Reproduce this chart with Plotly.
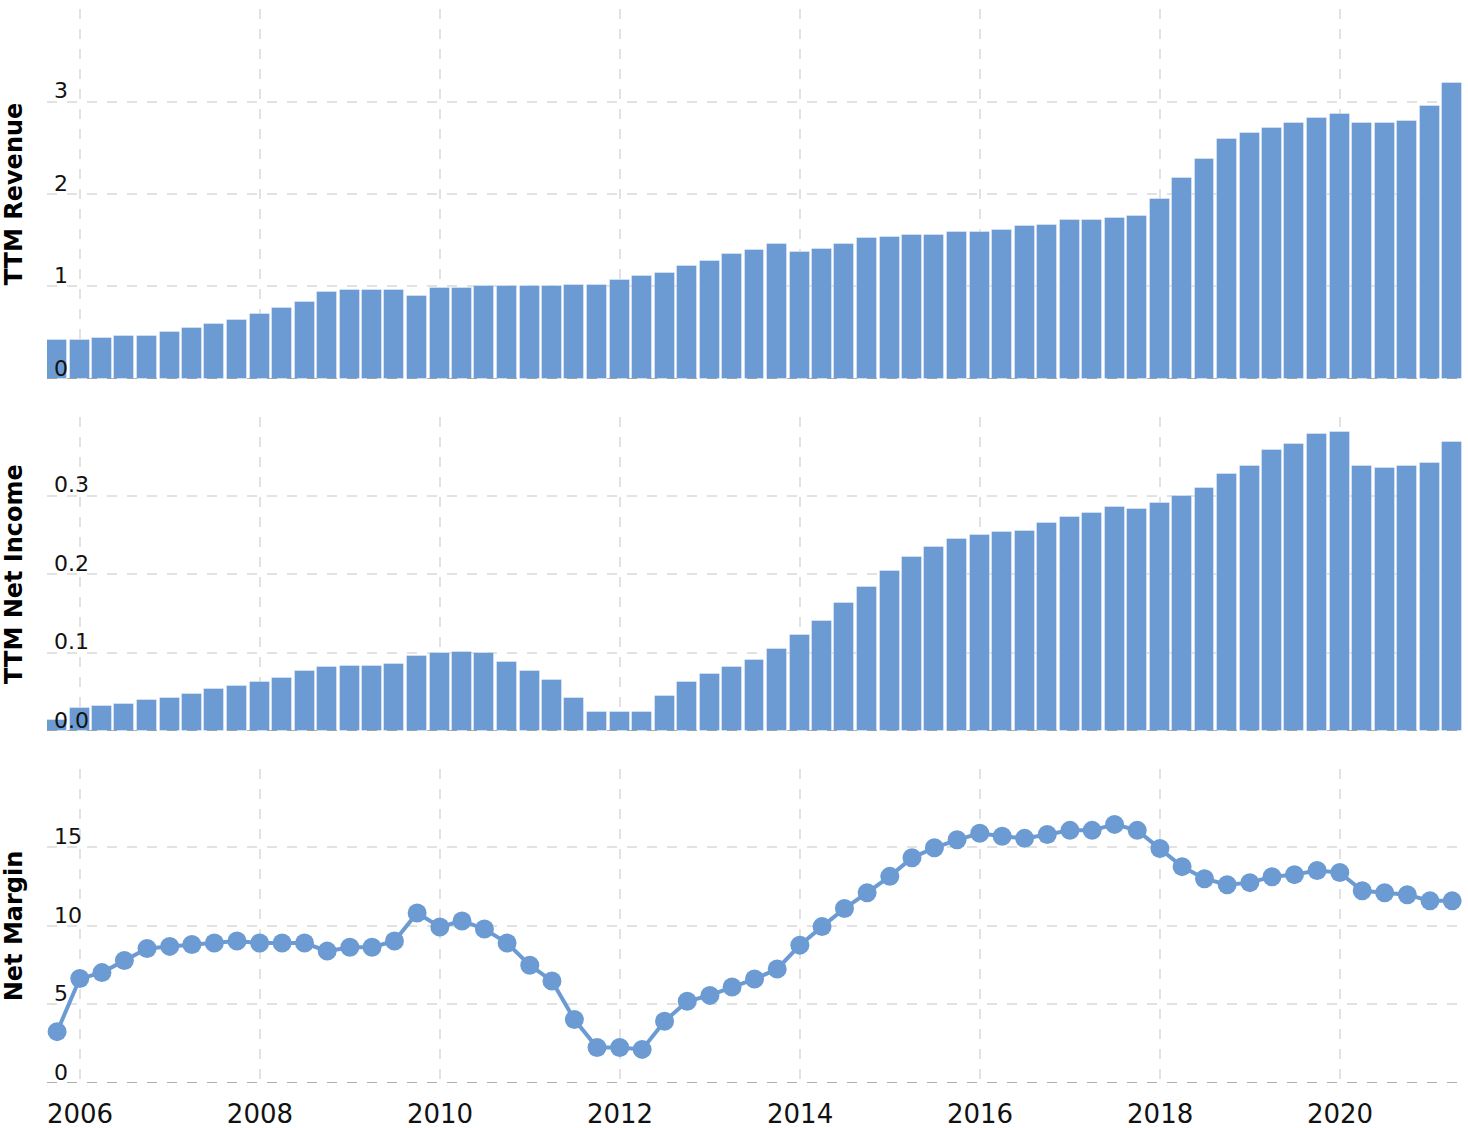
import plotly.graph_objects as go

# ---- data (quarter-end dates, 2005Q3 .. 2021Q1) ----
quarter_ends = ["03-31", "06-30", "09-30", "12-31"]
dates = [f"{y}-{q}" for y in range(2005, 2022) for q in quarter_ends]
dates = [d for d in dates if "2005-09-30" <= d <= "2021-03-31"]

ttm_revenue = [
    0.42, 0.42, 0.44, 0.46, 0.46, 0.51, 0.55, 0.59, 0.64, 0.70,
    0.77, 0.83, 0.94, 0.96, 0.96, 0.96, 0.90, 0.98, 0.98, 1.00,
    1.00, 1.00, 1.00, 1.02, 1.02, 1.07, 1.11, 1.15, 1.22, 1.28,
    1.35, 1.39, 1.46, 1.37, 1.41, 1.46, 1.52, 1.54, 1.56, 1.56,
    1.59, 1.59, 1.61, 1.65, 1.67, 1.72, 1.72, 1.74, 1.76, 1.95,
    2.17, 2.38, 2.60, 2.66, 2.71, 2.77, 2.82, 2.86, 2.77, 2.77,
    2.79, 2.95, 3.20,
]

ttm_net_income = [
    0.014, 0.029, 0.032, 0.035, 0.040, 0.042, 0.047, 0.053, 0.058, 0.063,
    0.068, 0.076, 0.081, 0.083, 0.083, 0.086, 0.096, 0.099, 0.101, 0.099,
    0.088, 0.076, 0.065, 0.042, 0.024, 0.024, 0.024, 0.045, 0.063, 0.073,
    0.081, 0.091, 0.104, 0.122, 0.140, 0.163, 0.183, 0.204, 0.222, 0.235,
    0.245, 0.250, 0.253, 0.255, 0.265, 0.273, 0.278, 0.286, 0.283, 0.291,
    0.299, 0.309, 0.327, 0.337, 0.358, 0.365, 0.378, 0.381, 0.337, 0.335,
    0.337, 0.342, 0.368,
]

net_margin = [
    3.27, 6.65, 7.03, 7.80, 8.57, 8.70, 8.82, 8.91, 9.04, 8.91,
    8.91, 8.91, 8.40, 8.65, 8.65, 9.04, 10.83, 9.94, 10.32, 9.81,
    8.91, 7.50, 6.50, 4.04, 2.26, 2.26, 2.14, 3.93, 5.21, 5.58,
    6.11, 6.62, 7.26, 8.78, 9.96, 11.11, 12.12, 13.16, 14.34, 14.98,
    15.49, 15.90, 15.71, 15.58, 15.83, 16.09, 16.09, 16.47, 16.09, 14.94,
    13.78, 13.01, 12.63, 12.76, 13.14, 13.27, 13.53, 13.40, 12.24, 12.12,
    11.99, 11.60, 11.60,
]

rev_ticks = [0, 1, 2, 3, 4]
rev_ticktext = ["0", "1", "2", "3", ""]
ni_ticks = [0, 0.1, 0.2, 0.3, 0.4]
ni_ticktext = ["0.0", "0.1", "0.2", "0.3", ""]
nm_ticks = [0, 5, 10, 15, 20]
nm_ticktext = ["0", "5", "10", "15", ""]

# ---- style ----
BLUE = "#6b9bd2"
GRID = "#e2e2e2"
FONT = "DejaVu Sans"
BAR_W = 81 * 86400000  # ms

fig = go.Figure()
fig.add_trace(go.Bar(x=dates, y=ttm_revenue, width=BAR_W, marker=dict(color=BLUE, line=dict(color="rgba(255,255,255,0.35)", width=1)),
                     xaxis="x", yaxis="y", name="TTM Revenue", showlegend=False))
fig.add_trace(go.Bar(x=dates, y=ttm_net_income, width=BAR_W, marker=dict(color=BLUE, line=dict(color="rgba(255,255,255,0.35)", width=1)),
                     xaxis="x2", yaxis="y2", name="TTM Net Income", showlegend=False))
fig.add_trace(go.Scatter(x=dates, y=net_margin, mode="lines+markers",
                         line=dict(color=BLUE, width=4), marker=dict(color=BLUE, size=19),
                         xaxis="x3", yaxis="y3", name="Net Margin", showlegend=False))

xr = ["2005-08-20", "2021-05-18"]
xcommon = dict(range=xr, type="date", dtick="M24", tick0="2006-01-01", tickformat="%Y",
               showgrid=True, gridcolor=GRID, gridwidth=2, griddash="10px,10px",
               zeroline=False, showline=False, ticks="", fixedrange=True, automargin=False)

fig.update_layout(
    width=1468, height=1128,
    margin=dict(l=47, r=4, t=9, b=45),
    paper_bgcolor="white", plot_bgcolor="white",
    font=dict(family=FONT, color="#111111"),
    bargap=0,
    xaxis=dict(**xcommon, domain=[0, 1], anchor="y", showticklabels=False),
    xaxis2=dict(**xcommon, domain=[0, 1], anchor="y2", showticklabels=False, matches="x"),
    xaxis3=dict(**xcommon, domain=[0, 1], anchor="y3", showticklabels=True, matches="x",
                tickfont=dict(size=26, color="#111111"), ticklabelstandoff=13,
                ticklabeloverflow="allow"),
)

ycommon = dict(showgrid=True, gridcolor=GRID, gridwidth=2, griddash="10px,10px",
               zeroline=False, showline=False, ticks="", ticklabelposition="inside",
               ticklabelshift=-11, ticklabelstandoff=4, automargin=False,
               ticklabeloverflow="allow", fixedrange=True,
               tickfont=dict(size=22, color="#111111"))
title_font = dict(family=FONT, size=24, color="#000000", weight="bold")

fig.update_layout(
    yaxis=dict(**ycommon, domain=[0.6555, 1.0], range=[0, 4], tickvals=rev_ticks, ticktext=rev_ticktext,
               title=dict(text="TTM Revenue", font=title_font, standoff=24)),
    yaxis2=dict(**ycommon, domain=[0.3277, 0.6201], range=[0, 0.4], tickvals=ni_ticks, ticktext=ni_ticktext,
                title=dict(text="TTM Net Income", font=title_font, standoff=24)),
    yaxis3=dict(**ycommon, domain=[0.0, 0.2924], range=[0, 20], tickvals=nm_ticks, ticktext=nm_ticktext,
                title=dict(text="Net Margin", font=title_font, standoff=24)),
)

# darker dashed baseline at zero for each panel
for xa, ya in [("x", "y"), ("x2", "y2"), ("x3", "y3")]:
    fig.add_shape(type="line", xref=f"{xa} domain", yref=ya, x0=0, x1=1, y0=0, y1=0,
                  line=dict(color="rgba(110,110,110,0.55)", width=2, dash="10px,10px"), layer="above")

fig.write_html("out.html", config={"displayModeBar": False},
               post_script="document.body.style.margin='0';")
